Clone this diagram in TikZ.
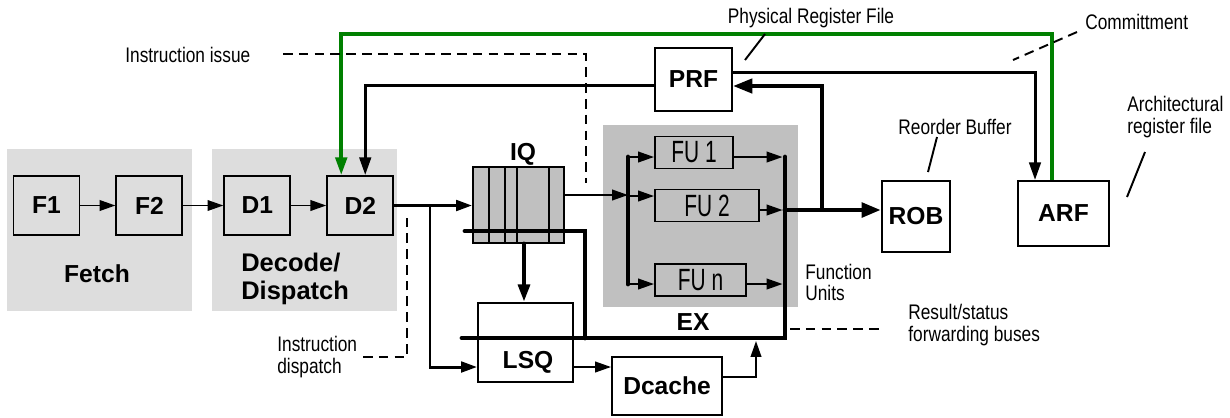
\documentclass[tikz,border=0pt]{standalone}
\usepackage{fontspec}
\setmainfont{Liberation Sans}
\newfontfamily\narrowfont[FakeStretch=0.82]{Liberation Sans}
\newfontfamily\fufont[FakeStretch=0.68]{Liberation Sans}
\usepackage{xcolor}
\usetikzlibrary{positioning,arrows.meta}

\definecolor{stagegrey}{HTML}{DDDDDD}
\definecolor{exgrey}{HTML}{C0C0C0}
\definecolor{archgreen}{HTML}{008000}

\begin{document}
\begin{tikzpicture}[
  x=0.02cm, y=-0.02cm,
  inner sep=0pt,
  font=\bfseries\fontsize{14}{16}\selectfont,
  box/.style={draw, line width=1.1pt, minimum width=1.32cm, minimum height=1.18cm},
  fubox/.style={draw, line width=1.1pt, fill=exgrey, minimum height=0.64cm, font=\fufont\fontsize{17.5}{17.5}\selectfont},
  note/.style={font=\narrowfont\fontsize{12}{12}\selectfont, align=left},
  arr/.style={-{Triangle[length=9pt,width=6pt]}, line width=1.1pt},
  bigarr/.style={-{Triangle[length=10pt,width=6.5pt]}},
  fatarr/.style={-{Triangle[length=11pt,width=8pt]}},
  med/.style={line width=1.7pt},
  fat/.style={line width=2.8pt, line cap=round},
  leader/.style={line width=1.1pt},
  dsh/.style={line width=1.1pt, dash pattern=on 5.5pt off 3.5pt},
  grn/.style={draw=archgreen, line width=2pt}]
\useasboundingbox (0,0) rectangle (1230,417);
% stage backgrounds
\fill[stagegrey] (7,149) rectangle (192,311);
\fill[stagegrey] (212,149) rectangle (397,311);
\fill[exgrey] (603,125) rectangle (798,307);
% front end
\node[box] (f1) at (46.5,205.5) {F1};
\node[box, right=0.7cm of f1] (f2) {F2};
\node[box, right=0.8cm of f2] (d1) {D1};
\node[box, right=0.7cm of d1] (d2) {D2};
\node (fetch) at (97,274) {Fetch};
\node[align=left, anchor=west, font=\bfseries\fontsize{14.5}{15.5}\selectfont] (decode) at (241,279) {Decode/\\Dispatch};
% issue queue and memory
\node[box, fill=exgrey, minimum width=1.82cm, minimum height=1.52cm] (iq) at (518.5,205) {};
\foreach \xx in {489,505,517,549} \draw[line width=1.1pt] (\xx,167) -- (\xx,243);
\node (iqlabel) at (523,154) {IQ};
\node[box, minimum width=1.9cm, minimum height=1.58cm] (lsq) at (525.5,342.5) {};
\node (lsqlabel) at (528,362) {LSQ};
\node[box, minimum width=2.2cm, minimum height=1.16cm] (dcache) at (667,386) {Dcache};
% execute
\node (exlabel) at (693,322) {EX};
\node[fubox, minimum width=1.56cm] (fu1) at (694,152.5) {FU 1};
\node[fubox, minimum width=2.08cm] (fu2) at (707,205.5) {FU 2};
\node[fubox, minimum width=1.82cm] (fun) at (700.5,280) {FU n};
% register files, ROB
\node[box, minimum width=1.54cm, minimum height=1.26cm] (prf) at (693.5,79.5) {PRF};
\node[box, minimum width=1.36cm, minimum height=1.42cm] (rob) at (916,216.5) {ROB};
\node[box, minimum width=1.82cm, minimum height=1.3cm] (arf) at (1063.5,213.5) {ARF};
% annotations
\node[note] (prflbl) at (811,18) {Physical Register File};
\node[note, anchor=west] (commitlbl) at (1085,22) {Committment};
\node[note, anchor=west] (issuelbl) at (125,55) {Instruction issue};
\node[note] (roblbl) at (955,127) {Reorder Buffer};
\node[note, anchor=west] (arflbl) at (1127,117) {Architectural\\register file};
\node[note, anchor=west] (fulbl) at (805,282) {Function\\Units};
\node[note, anchor=west] (buslbl) at (908,325) {Result/status\\forwarding buses};
\node[note, anchor=west] (displbl) at (277,357) {Instruction\\dispatch};
% junctions and free ends
\coordinate (dj) at (430,205.5);
\coordinate (qa) at (465,231);
\coordinate (qc) at (585,338);
\coordinate (busL) at (462,338);
\coordinate (colT) at (785,157);
\coordinate (dtap) at (756,341);
\coordinate (lbT) at (628,157);
\coordinate (lbB) at (628,284);
\coordinate (rtap) at (785,210);
\coordinate (rj) at (822,210);
\coordinate (gy) at (700,34);
\coordinate (issA) at (283,54);
\coordinate (issB) at (586,183);
\coordinate (dspA) at (363,357);
\coordinate (dspB) at (407,218);
\coordinate (resA) at (790,329);
\coordinate (resB) at (882,329);
\coordinate (comA) at (1077,32);
\coordinate (comB) at (1013,60);
\coordinate (prfA) at (765,34);
\coordinate (prfB) at (745,60);
\coordinate (robA) at (937,137);
\coordinate (robB) at (928,172);
\coordinate (arfA) at (1145,152);
\coordinate (arfB) at (1127,197);
% pipeline flow
\foreach \a/\b in {f1/f2, f2/d1, d1/d2} \draw[arr] (\a) -- (\b);
\draw[arr, med] (d2.east) -- (d2.east -| iq.west);
\draw[arr, med] (dj) |- ([yshift=-0.49cm]lsq.west);
\draw[fat, bigarr] ([xshift=0.11cm]iq.south) -- ([xshift=0.11cm]iq.south |- lsq.north);
\draw[fat] (qa) -| (qc);
\draw[fat] (busL) -| (colT);
\draw[arr] ([yshift=-0.49cm]lsq.east) -- ([yshift=-0.49cm]lsq.east -| dcache.west);
\draw[arr] ([yshift=0.18cm]dcache.east) -| (dtap);
\draw[fat] (lbT) -- (lbB);
\draw[arr] ([yshift=0.2cm]iq.east) -- ([yshift=0.2cm]iq.east -| lbT);
\draw[arr] (lbT) -- (lbT -| fu1.west);
\draw[arr] ([yshift=0.19cm]fu2.west -| lbT) -- ([yshift=0.19cm]fu2.west);
\draw[arr] (lbB) -- (lbB -| fun.west);
\draw[arr, shorten >=1.4pt] (fu1.east |- colT) -- (colT);
\draw[arr, shorten >=1.4pt] ([yshift=-0.09cm]fu2.east) -- ([yshift=-0.09cm]fu2.east -| colT);
\draw[arr, shorten >=1.4pt] (fun.east |- lbB) -- (colT |- lbB);
\draw[fat, fatarr] (rtap) -- (rtap -| rob.west);
\draw[line width=2.3pt, fatarr] (rj) |- ([yshift=-0.13cm]prf.east);
\draw[med, bigarr] ([yshift=-0.11cm]prf.west) -| ([xshift=0.1cm]d2.north);
\draw[med, bigarr] ([yshift=0.15cm]prf.east) -| ([xshift=-0.57cm]arf.north);
\draw[grn, bigarr] ([xshift=-0.23cm]arf.north) |- (gy) -| ([xshift=-0.38cm]d2.north);
% dashed markers and leaders
\draw[dsh] (issA) -| (issB);
\draw[dsh] (dspA) -| (dspB);
\draw[dsh] (resA) -- (resB);
\draw[dsh] (comA) -- (comB);
\draw[leader] (prfA) -- (prfB);
\draw[leader] (robA) -- (robB);
\draw[leader] (arfA) -- (arfB);
\end{tikzpicture}
\end{document}
